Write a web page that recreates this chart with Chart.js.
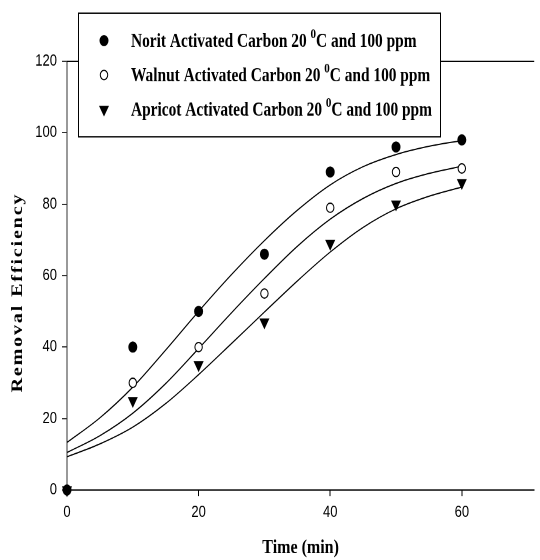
<!DOCTYPE html>
<html>
<head>
<meta charset="utf-8">
<script src="https://cdn.jsdelivr.net/npm/chart.js@4"></script>
<style>
  html, body { margin: 0; padding: 0; background: #fff; }
  canvas { display: block; }
</style>
</head>
<body>
<!-- the figure is stretched vertically, so the chart is drawn at 540x448 and shown at 540x560 -->
<canvas id="chart" width="540" height="448" style="width:540px;height:560px"></canvas>
<script>

// measured points
const time    = [0, 10, 20, 30, 40, 50, 60]; // min
const norit   = [0, 40, 50, 66, 89, 96, 98];
const walnut  = [0, 30, 40, 55, 79, 89, 90];
const apricot = [0, 25, 35, 47, 69, 80, 86];

const fitTime    = [0, 5, 10, 15, 20, 25, 30, 35, 40, 45, 50, 55, 60];
const noritFit   = [13.3, 20.2, 28.8, 39.2, 50.0, 60.3, 69.8, 78.3, 85.4, 90.5, 93.9, 96.2, 97.8];
const walnutFit  = [10.5, 15.2, 21.5, 29.8, 39.6, 49.6, 59.2, 68.2, 75.8, 81.6, 85.8, 88.6, 90.6];
const apricotFit = [9.3, 12.9, 17.6, 24.2, 32.3, 41.0, 49.8, 58.5, 66.6, 73.5, 78.7, 82.2, 84.8];

const names = [
  'Norit Activated Carbon 20 ⁰C and 100 ppm',
  'Walnut Activated Carbon 20 ⁰C and 100 ppm',
  'Apricot Activated Carbon 20 ⁰C and 100 ppm'
];

const xTicks = [0, 20, 40, 60];
const yTicks = [0, 20, 40, 60, 80, 100, 120];
const xTitle = 'Time (min)';
const yTitle = 'Removal Efficiency';

function pts(xs, ys) {
  return xs.map((x, i) => ({x: x, y: ys[i]}));
}

const serif = 'Liberation Serif, Times New Roman, serif';
const sans = 'Liberation Sans, Arial, sans-serif';

function marker(label, ys, style) {
  return Object.assign({
    label: label,
    data: pts(time, ys),
    showLine: false,
    clip: false,
    pointBorderColor: '#000',
    pointBorderWidth: 1
  }, style);
}

function curve(ys) {
  return {
    data: pts(fitTime, ys),
    borderColor: '#000',
    borderWidth: 1,
    pointRadius: 0,
    cubicInterpolationMode: 'monotone',
    fill: false
  };
}

const data = {
  datasets: [
    marker(names[0], norit,   {pointStyle: 'circle',   pointRadius: 4,   pointBackgroundColor: '#000'}),
    marker(names[1], walnut,  {pointStyle: 'circle',   pointRadius: 3.7, pointBackgroundColor: '#fff'}),
    marker(names[2], apricot, {pointStyle: 'triangle', pointRadius: 4.8, pointBackgroundColor: '#000', pointRotation: 180}),
    curve(noritFit),
    curve(walnutFit),
    curve(apricotFit)
  ]
};

// legend box, top frame line and y title
function drawMarker(ctx, ds, x, y) {
  const r = ds.pointRadius;
  ctx.beginPath();
  if (ds.pointStyle === 'triangle') {
    ctx.moveTo(x - r * 0.866, y - r / 2);
    ctx.lineTo(x + r * 0.866, y - r / 2);
    ctx.lineTo(x, y + r);
    ctx.closePath();
  } else {
    ctx.arc(x, y, r, 0, Math.PI * 2);
  }
  ctx.fillStyle = ds.pointBackgroundColor;
  ctx.fill();
  ctx.lineWidth = 1;
  ctx.strokeStyle = '#000';
  ctx.stroke();
}

const decor = {
  id: 'decor',
  afterDraw(chart) {
    const ctx = chart.ctx;
    const a = chart.chartArea;
    ctx.save();

    // top frame
    ctx.strokeStyle = '#000';
    ctx.lineWidth = 1;
    ctx.beginPath();
    ctx.moveTo(a.left, a.top);
    ctx.lineTo(a.right, a.top);
    ctx.stroke();

    // legend
    const bx = 78, by = 10, bw = 362, bh = 99;
    ctx.fillStyle = '#fff';
    ctx.fillRect(bx, by, bw, bh);
    ctx.strokeRect(bx + 0.5, by + 0.5, bw, bh);
    const rows = [33.5, 61, 88.5];
    ctx.textBaseline = 'middle';
    ctx.textAlign = 'left';
    for (let i = 0; i < 3; i++) {
      const ds = chart.data.datasets[i];
      drawMarker(ctx, ds, 104, rows[i] - 1);
      const parts = ds.label.split('⁰');
      let x = 131;
      ctx.fillStyle = '#000';
      ctx.font = 'bold 15.4px ' + serif;
      ctx.fillText(parts[0], x, rows[i]);
      x += ctx.measureText(parts[0]).width;
      ctx.font = 'bold 11px ' + serif;
      ctx.fillText('0', x, rows[i] - 6);
      x += ctx.measureText('0').width;
      ctx.font = 'bold 15.4px ' + serif;
      ctx.fillText(parts[1], x, rows[i]);
    }

    // y title
    ctx.translate(18, 234);
    ctx.rotate(-Math.PI / 2);
    ctx.font = 'bold 16px ' + serif;
    ctx.letterSpacing = '1.5px';
    ctx.textAlign = 'center';
    ctx.fillStyle = '#000';
    ctx.fillText(yTitle, 0, 0);
    ctx.restore();
  }
};

const config = {
  type: 'line',
  data: data,
  plugins: [decor],
  options: {
    responsive: false,
    devicePixelRatio: 2,
    animation: false,
    events: [],
    layout: { padding: { top: 49, right: 0, left: 0, bottom: 0 } },
    plugins: {
      legend: { display: false },
      tooltip: { enabled: false }
    },
    scales: {
      x: {
        type: 'linear',
        min: 0,
        max: 71,
        afterBuildTicks: (s) => { s.ticks = xTicks.map(v => ({value: v})); },
        afterFit: (s) => { s.height = 56; },
        grid: { drawOnChartArea: false, drawTicks: true, tickLength: 5, color: '#000' },
        border: { display: true, color: '#000', width: 1 },
        ticks: { color: '#000', padding: 5, maxRotation: 0, font: { family: sans, size: 13 } },
        title: {
          display: true,
          text: xTitle,
          color: '#000',
          padding: { top: 0, bottom: 0 },
          font: { family: serif, size: 16, weight: 'bold' }
        }
      },
      y: {
        min: 0,
        max: 120,
        afterBuildTicks: (s) => { s.ticks = yTicks.map(v => ({value: v})); },
        afterFit: (s) => { s.width = 67; },
        grid: { drawOnChartArea: false, drawTicks: true, tickLength: 5, color: '#333' },
        border: { display: true, color: '#333', width: 1 },
        ticks: { color: '#000', padding: 5, font: { family: sans, size: 13 } }
      }
    }
  }
};

var chart = null;

document.addEventListener('DOMContentLoaded', () => {
  chart = new Chart(document.getElementById('chart'), config);
});
</script>
</body>
</html>
